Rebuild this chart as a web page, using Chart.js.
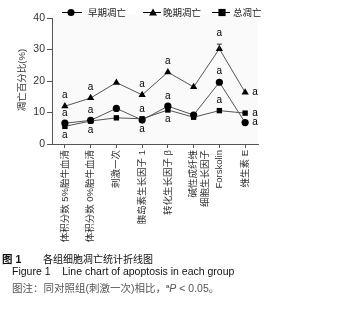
<!DOCTYPE html>
<html>
<head>
<meta charset="utf-8">
<script src="https://cdn.jsdelivr.net/npm/chart.js@4"></script>
<style>
  body { margin: 0; background: #fff; width: 340px; height: 314px; overflow: hidden; font-family: "Liberation Sans", "Noto Sans CJK SC", sans-serif; }
  #wrap { position: relative; width: 340px; height: 248px; }
  .cap { position: absolute; left: 0; font-size: 10.5px; color: #111; white-space: pre; }
  #ytitle { position: absolute; left: 21px; top: 80px; font-size: 9.5px; color: #333; white-space: nowrap; transform: translate(-50%, -50%) rotate(-90deg); }
</style>
</head>
<body>
<div id="wrap"><canvas id="apoptosisChart" width="340" height="248"></canvas>
<div id="ytitle">凋亡百分比(%)</div></div>
<div class="cap" style="top:251px;left:2px;font-weight:bold;">图 1</div>
<div class="cap" style="top:251px;left:43px;font-size:10px;">各组细胞凋亡统计折线图</div>
<div class="cap" style="top:265px;left:12px;">Figure 1    Line chart of apoptosis in each group</div>
<div class="cap" style="top:280px;left:12px;color:#555;">图注：同对照组(刺激一次)相比，<sup style="font-size:6px;font-weight:bold;">a</sup><i>P</i> &lt; 0.05。</div>
<script>
// 分组
const groups = ['体积分数 5%胎牛血清', '体积分数 0%胎牛血清', '刺激一次', '胰岛素生长因子 1', '转化生长因子 β', ['碱性成纤维', '细胞生长因子'], 'Forskolin', '维生素 E'];
// 凋亡百分比 (%)
const earlyApop = [6.6, 7.5, 11.3, 7.6, 12.0, 9.2, 19.6, 6.8];
const lateApop = [12.0, 14.6, 19.5, 15.6, 22.8, 18.1, 30.2, 16.4];
const totalApop = [5.6, 7.3, 8.3, 8.0, 10.8, 8.5, 10.6, 9.8];
const lateErr = [0, 0, 0, 0, 0, 0, 1.5, 0];
// 与刺激一次组相比 P < 0.05
const sigFlag = [1, 1, 0, 1, 1, 0, 1, 1];
const yTicks = [0, 10, 20, 30, 40];

const FONT = '"Liberation Sans", "Noto Sans CJK SC", sans-serif';
const LINE = '#555';

function drawMarker(ctx, style, x, y) {
    ctx.fillStyle = '#000';
    ctx.beginPath();
    if (style === 'circle') ctx.arc(x, y, 3.6, 0, Math.PI * 2);
    else if (style === 'triangle') { ctx.moveTo(x, y - 4); ctx.lineTo(x + 4, y + 3); ctx.lineTo(x - 4, y + 3); ctx.closePath(); }
    else ctx.rect(x - 3.6, y - 3.6, 7.2, 7.2);
    ctx.fill();
}

const extras = {
    id: 'extras',
    beforeDraw(chart) {
        const { ctx, chartArea: a } = chart;
        ctx.save();
        ctx.fillStyle = '#fafafa';
        ctx.fillRect(a.left, a.top - 4, a.right - a.left, a.bottom - a.top + 4);
        ctx.restore();
    },
    afterDatasetsDraw(chart) {
        const { ctx } = chart;
        const xs = chart.scales.x, ys = chart.scales.y;
        ctx.save();
        // 误差线
        ctx.strokeStyle = '#333';
        ctx.lineWidth = 1;
        lateErr.forEach((e, i) => {
            if (!e) return;
            const x = xs.getPixelForValue(i), y0 = ys.getPixelForValue(lateApop[i]), y1 = ys.getPixelForValue(lateApop[i] + e);
            ctx.beginPath();
            ctx.moveTo(x, y0); ctx.lineTo(x, y1);
            ctx.moveTo(x - 2.5, y1); ctx.lineTo(x + 2.5, y1);
            ctx.stroke();
        });
        // 显著性标记
        ctx.fillStyle = '#000';
        ctx.font = '10px ' + FONT;
        ctx.textAlign = 'center';
        ctx.textBaseline = 'middle';
        const last = groups.length - 1;
        sigFlag.forEach((f, i) => {
            if (!f) return;
            const x = xs.getPixelForValue(i);
            const yl = ys.getPixelForValue(lateApop[i]);
            const ye = ys.getPixelForValue(earlyApop[i]);
            const yt = ys.getPixelForValue(totalApop[i]);
            if (i === last) {
                [yl, ye, yt].forEach(y => ctx.fillText('a', x + 10, y));
                return;
            }
            ctx.fillText('a', x, ys.getPixelForValue(lateApop[i] + lateErr[i]) - 11);
            if (Math.abs(earlyApop[i] - totalApop[i]) > 5) {
                ctx.fillText('a', x, ye - 11);
                ctx.fillText('a', x, yt - 10);
            } else {
                ctx.fillText('a', x, Math.min(ye, yt) - 10);
                ctx.fillText('a', x, Math.max(ye, yt) + 9);
            }
        });
        // 图例
        ctx.font = '9.5px ' + FONT;
        ctx.textAlign = 'left';
        const items = [['circle', '早期凋亡', 62, 82, 71, 88], ['triangle', '晚期凋亡', 143, 161, 153, 163], ['square', '总凋亡', 212, 230, 222, 233]];
        items.forEach(([st, txt, x0, x1, mx, tx]) => {
            ctx.strokeStyle = '#000';
            ctx.beginPath(); ctx.moveTo(x0, 12.5); ctx.lineTo(x1, 12.5); ctx.stroke();
            drawMarker(ctx, st, mx, 12.5);
            ctx.fillStyle = '#222';
            ctx.fillText(txt, tx, 13);
        });
        ctx.restore();
    }
};

function series(label, data, style) {
    return {
        label: label, data: data, borderColor: LINE, borderWidth: 1, tension: 0,
        pointStyle: style, pointRadius: style === 'triangle' ? 4.2 : (style === 'rect' ? 3.8 : 3.6),
        pointBackgroundColor: '#000', pointBorderColor: '#000', pointBorderWidth: 0, fill: false
    };
}

new Chart(document.getElementById('apoptosisChart'), {
    type: 'line',
    data: {
        labels: groups,
        datasets: [
            series('总凋亡', totalApop, 'rect'),
            series('早期凋亡', earlyApop, 'circle'),
            series('晚期凋亡', lateApop, 'triangle')
        ]
    },
    options: {
        responsive: false,
        animation: false,
        events: [],
        layout: { padding: { top: 18, right: 82, left: 0, bottom: 0 } },
        plugins: { legend: { display: false }, tooltip: { enabled: false } },
        scales: {
            x: {
                offset: true,
                afterFit: s => { s.height = 104; },
                grid: { display: true, offset: false, drawOnChartArea: false, tickLength: 4, color: '#555' },
                border: { color: '#555' },
                ticks: { minRotation: 90, maxRotation: 90, autoSkip: false, padding: 2, color: '#333', font: { family: FONT, size: 9.5 } }
            },
            y: {
                min: 0, max: 40,
                afterFit: s => { s.width = 52; },
                afterBuildTicks: s => { s.ticks = yTicks.map(v => ({ value: v })); },
                grid: { display: true, drawOnChartArea: false, tickLength: 5, color: '#555' },
                border: { color: '#555' },
                ticks: { padding: 2, color: '#333', font: { family: FONT, size: 10.5 } }
            }
        }
    },
    plugins: [extras]
});
</script>
</body>
</html>
